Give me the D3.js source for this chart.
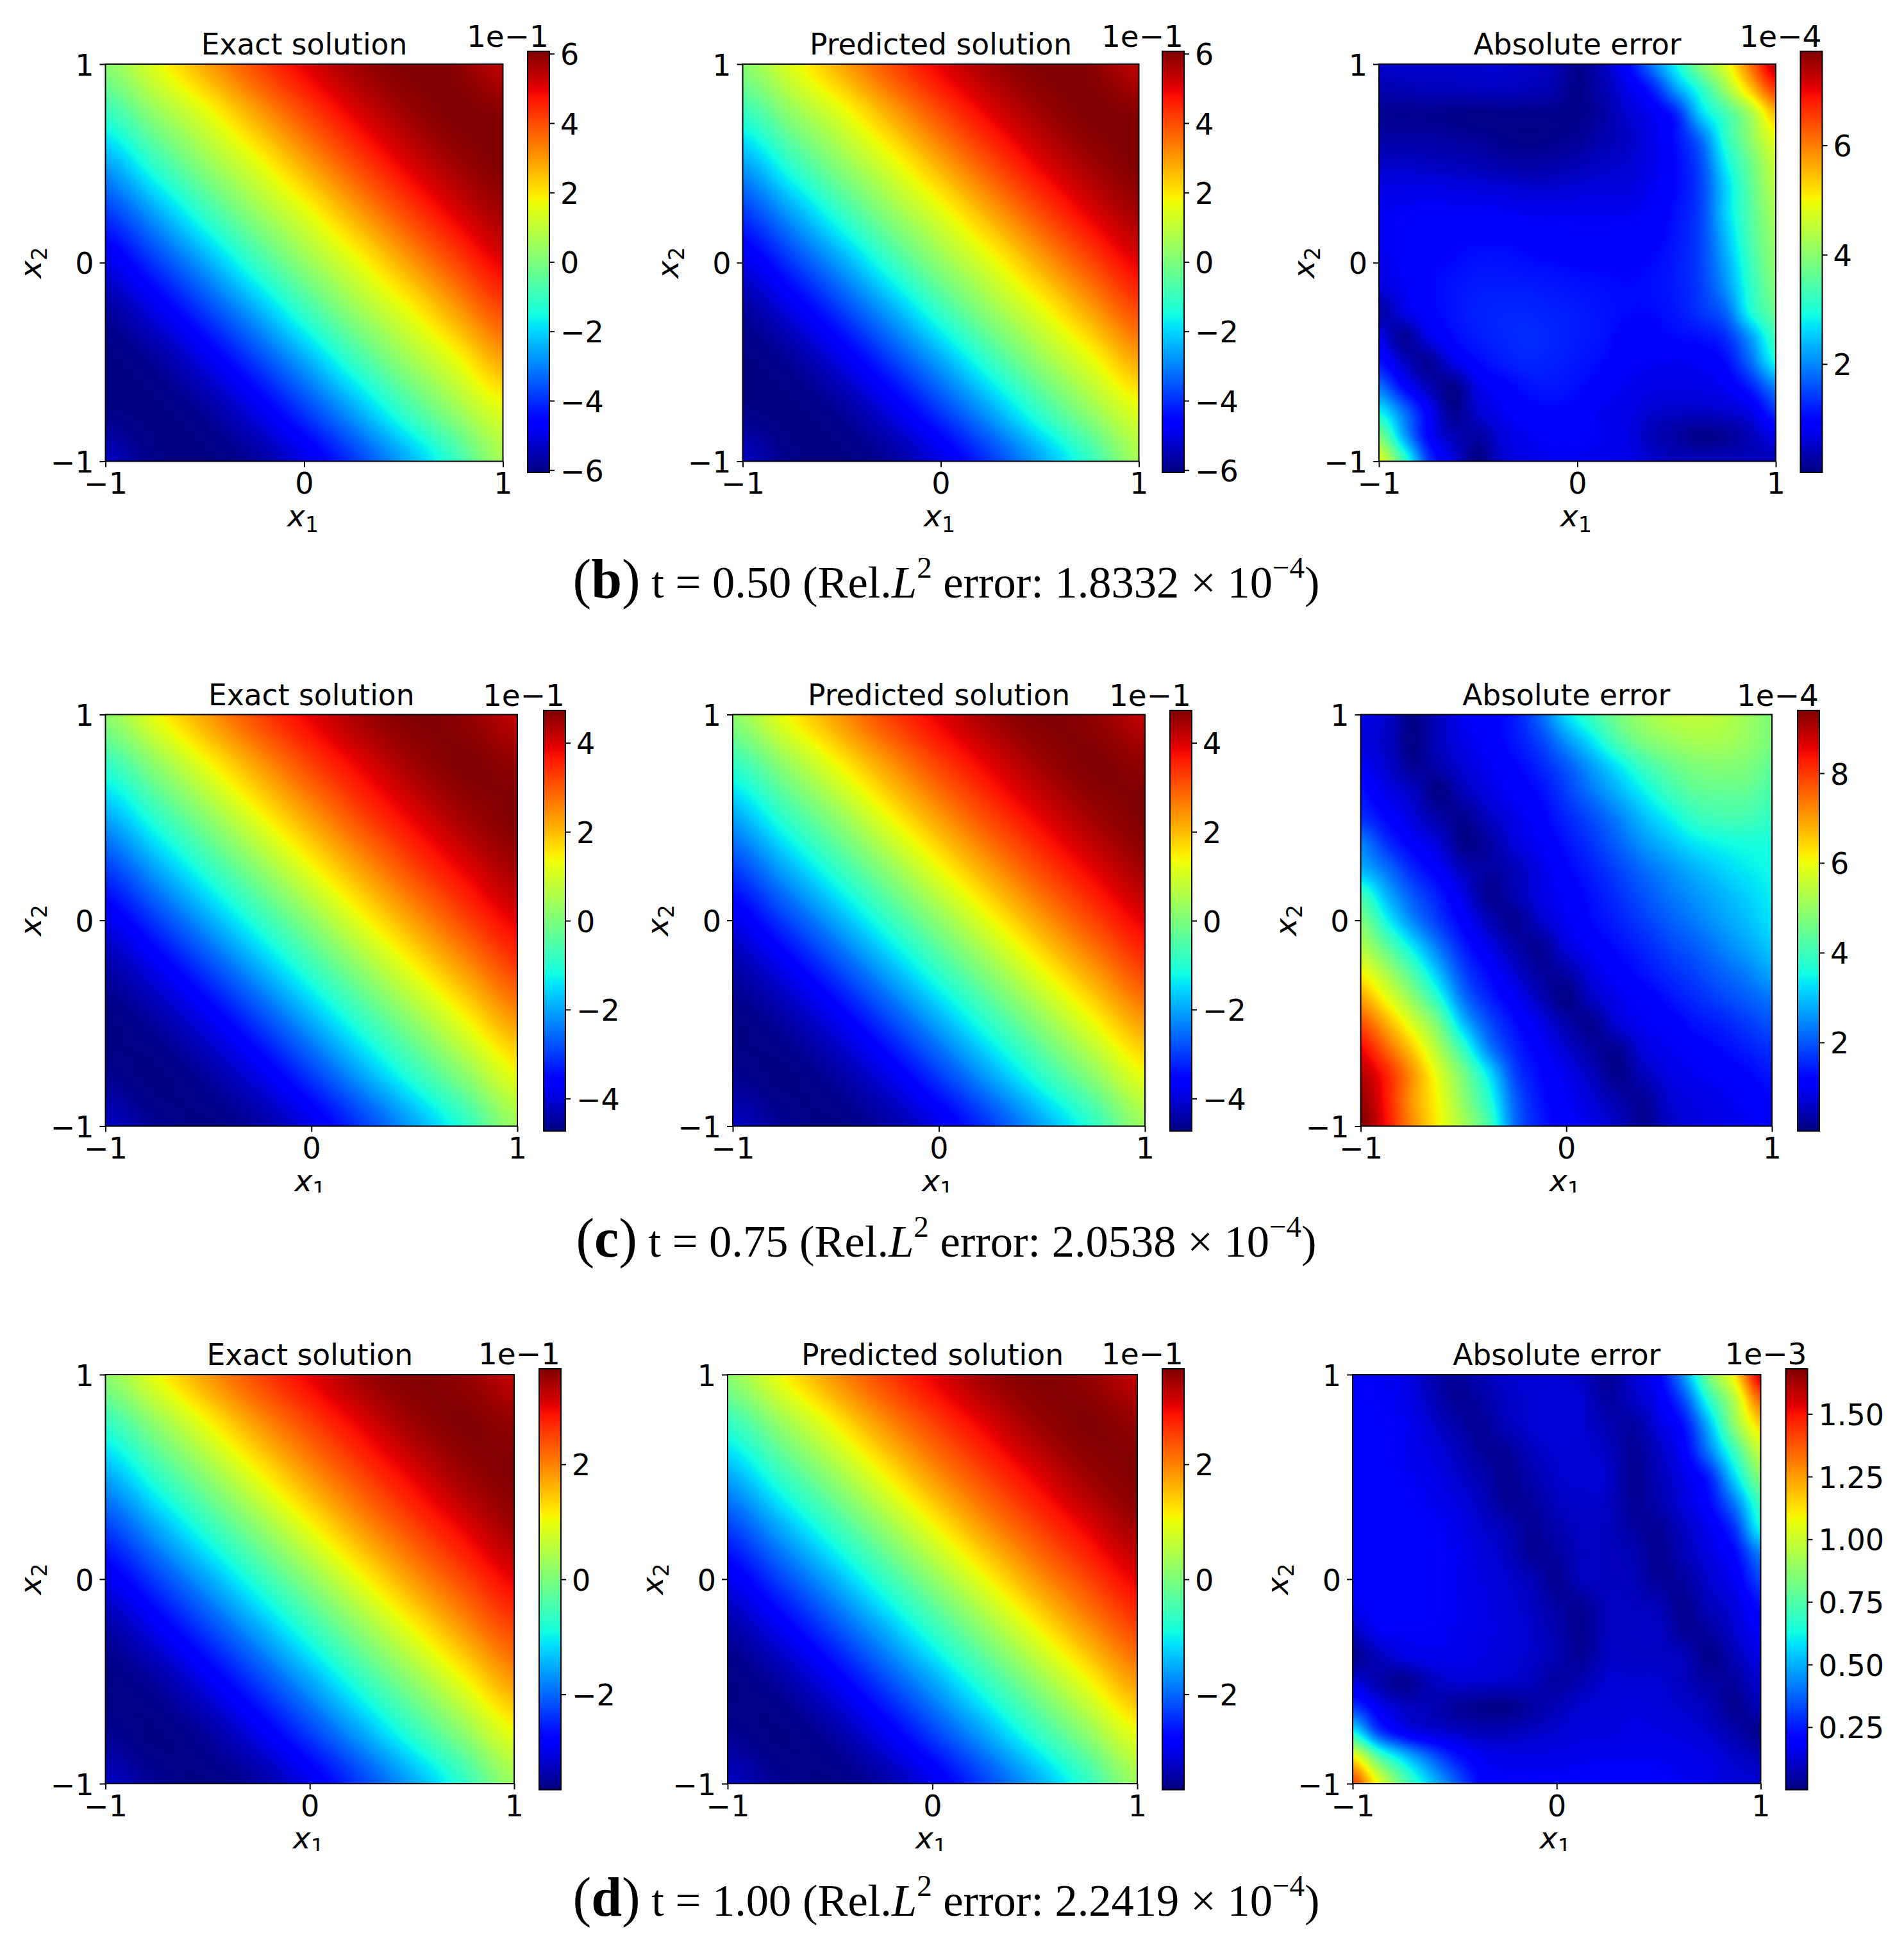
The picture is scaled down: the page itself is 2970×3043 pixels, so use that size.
<!DOCTYPE html>
<html>
<head>
<meta charset="utf-8">
<script src="https://cdn.jsdelivr.net/npm/d3@7"></script>
<style>
    html, body { margin: 0; padding: 0; background: white; }
    svg { display: block; }
    text { fill: black; font-family: "DejaVu Sans"; font-size: 45.6px; }
    .caption, .caption tspan { font-family: "Liberation Serif"; }
</style>
</head>
<body>
<svg id="fig" width="2970" height="3043"></svg>
<script>
//grids: rows go from x2 = 1 down to x2 = -1, columns from x1 = -1 to x1 = 1
const exactB = [
    [0.2, 1.5, 2.8, 4.0, 5.0, 5.7, 6.07, 6.0, 5.4],
    [-1.1, 0.3, 1.5, 2.8, 4.0, 5.0, 5.7, 6.07, 6.0],
    [-2.6, -1.1, 0.3, 1.5, 2.8, 4.0, 5.0, 5.7, 6.07],
    [-3.9, -2.6, -1.1, 0.3, 1.5, 2.8, 4.0, 5.0, 5.7],
    [-5.0, -3.9, -2.6, -1.1, 0.3, 1.5, 2.8, 4.0, 5.0],
    [-5.8, -5.0, -3.9, -2.6, -1.1, 0.3, 1.5, 2.8, 4.0],
    [-6.07, -5.8, -5.0, -3.9, -2.6, -1.1, 0.3, 1.5, 2.8],
    [-6.0, -6.07, -5.8, -5.0, -3.9, -2.6, -1.1, 0.3, 1.5],
    [-5.4, -6.0, -6.07, -5.8, -5.0, -3.9, -2.6, -1.1, 0.6]
];
const exactC = [
    [0.2, 1.3, 2.3, 3.2, 3.9, 4.45, 4.73, 4.6, 4.2],
    [-0.9, 0.2, 1.3, 2.3, 3.2, 3.9, 4.45, 4.73, 4.6],
    [-2.0, -0.9, 0.2, 1.3, 2.3, 3.2, 3.9, 4.45, 4.73],
    [-3.0, -2.0, -0.9, 0.2, 1.3, 2.3, 3.2, 3.9, 4.45],
    [-3.85, -3.0, -2.0, -0.9, 0.2, 1.3, 2.3, 3.2, 3.9],
    [-4.45, -3.85, -3.0, -2.0, -0.9, 0.2, 1.3, 2.3, 3.2],
    [-4.73, -4.45, -3.85, -3.0, -2.0, -0.9, 0.2, 1.3, 2.3],
    [-4.6, -4.73, -4.45, -3.85, -3.0, -2.0, -0.9, 0.2, 1.3],
    [-4.2, -4.6, -4.73, -4.45, -3.85, -3.0, -2.0, -0.9, 0.4]
];
const exactD = [
    [0.15, 1.0, 1.8, 2.45, 3.0, 3.45, 3.65, 3.55, 3.25],
    [-0.7, 0.15, 1.0, 1.8, 2.45, 3.0, 3.45, 3.65, 3.55],
    [-1.55, -0.7, 0.15, 1.0, 1.8, 2.45, 3.0, 3.45, 3.65],
    [-2.3, -1.55, -0.7, 0.15, 1.0, 1.8, 2.45, 3.0, 3.45],
    [-2.95, -2.3, -1.55, -0.7, 0.15, 1.0, 1.8, 2.45, 3.0],
    [-3.45, -2.95, -2.3, -1.55, -0.7, 0.15, 1.0, 1.8, 2.45],
    [-3.65, -3.45, -2.95, -2.3, -1.55, -0.7, 0.15, 1.0, 1.8],
    [-3.55, -3.65, -3.45, -2.95, -2.3, -1.55, -0.7, 0.15, 1.0],
    [-3.25, -3.55, -3.65, -3.45, -2.95, -2.3, -1.55, -0.7, 0.3]
];
const predictedB = exactB, predictedC = exactC, predictedD = exactD;

const errorB = [
    [.55,.55,.55,.55,.55,.55,.48,.40,.09,.40,.94,1.86,2.86,3.94,4.79,6.1,7.33],
    [.32,.36,.40,.40,.44,.44,.40,.32,.09,.32,.71,1.17,2.17,3.1,4.17,5.4,6.56],
    [.13,.13,.13,.09,.05,.09,.09,.09,.09,.25,.55,.79,1.25,2.56,3.33,4.25,5.48],
    [.25,.25,.25,.21,.17,.09,.05,.09,.17,.32,.48,.71,1.09,1.82,3.1,4.02,4.87],
    [.48,.48,.44,.40,.36,.285,.25,.285,.36,.48,.55,.71,1.02,1.56,2.79,3.71,4.56],
    [.67,.71,.71,.67,.63,.59,.55,.55,.59,.63,.63,.79,1.02,1.48,2.56,3.56,4.4],
    [.79,.82,.86,.86,.86,.82,.79,.79,.79,.79,.79,.86,1.09,1.48,2.56,3.48,4.25],
    [.79,.86,.94,.98,.98,.98,.94,.9,.86,.86,.9,.94,1.13,1.48,2.40,3.4,4.1],
    [.71,.86,.98,1.02,1.09,1.09,1.05,1.02,.98,.98,.98,1.02,1.17,1.48,2.25,3.25,4.02],
    [.63,.79,.98,1.09,1.17,1.17,1.17,1.13,1.09,1.05,1.02,1.05,1.17,1.44,2.09,3.1,3.87],
    [.25,.67,.94,1.09,1.21,1.25,1.25,1.21,1.17,1.09,1.02,1.02,1.13,1.36,1.75,2.94,3.63],
    [.71,.17,.71,1.02,1.17,1.25,1.29,1.25,1.17,1.09,.94,.94,1.02,1.09,1.32,2.17,3.25],
    [1.09,.48,.17,.71,1.02,1.17,1.25,1.21,1.13,1.02,.86,.82,.79,.86,1.05,1.79,2.86],
    [1.82,.98,.40,.09,.71,.94,1.09,1.13,1.05,.9,.79,.71,.71,.71,.82,1.21,1.94],
    [2.79,1.82,.86,.13,.55,.79,.94,.98,.94,.79,.71,.55,.48,.48,.55,.71,1.32],
    [3.87,2.25,.94,.40,.25,.63,.79,.86,.86,.79,.71,.40,.25,.09,.17,.40,.71],
    [4.79,3.25,1.40,.63,.05,.55,.71,.79,.79,.75,.71,.55,.40,.40,.40,.40,.40]
];
const errorC = [
    [.87,.64,.12,.5,.97,1.16,1.44,2.14,3.2,3.97,4.63,5.1,5.37,5.47,5.37,5.1,4.72],
    [.78,.59,.07,.54,.87,1.1,1.39,1.81,2.56,3.31,4.15,4.72,5.0,5.19,5.19,5.0,4.72],
    [.97,.68,.21,.4,.73,.97,1.2,1.53,2.0,2.65,3.31,3.97,4.43,4.72,4.81,4.72,4.43],
    [1.34,.87,.59,.07,.5,.83,1.06,1.3,1.76,2.28,2.84,3.4,3.97,4.34,4.43,4.43,4.15],
    [1.62,1.2,.78,.36,.17,.59,.87,1.15,1.53,1.9,2.37,2.94,3.4,3.87,4.06,4.06,3.87],
    [2.37,1.62,1.1,.73,.12,.31,.78,1.01,1.34,1.67,2.09,2.56,2.94,3.31,3.5,3.6,3.6],
    [2.84,2.23,1.53,1.06,.5,.31,.5,.87,1.2,1.48,1.81,2.18,2.51,2.84,3.12,3.36,3.5],
    [3.97,2.84,2.0,1.44,.83,.17,.45,.83,1.06,1.34,1.62,1.95,2.28,2.56,2.84,3.12,3.4],
    [4.72,3.5,2.46,1.72,1.1,.5,.17,.64,.97,1.25,1.48,1.76,2.05,2.33,2.65,2.94,3.27],
    [5.29,4.34,3.31,2.28,1.44,.87,.4,.21,.78,1.06,1.3,1.53,1.81,2.05,2.37,2.7,3.03],
    [6.05,5.19,4.15,2.94,1.81,1.2,.68,.26,.36,.83,1.1,1.34,1.58,1.81,2.09,2.37,2.75],
    [6.89,5.95,4.91,3.69,2.23,1.48,1.01,.5,.07,.59,.92,1.1,1.34,1.58,1.81,2.05,2.28],
    [7.74,6.8,5.76,4.63,2.94,1.9,1.3,.87,.4,.17,.73,.97,1.1,1.34,1.48,1.72,1.95],
    [8.49,7.55,6.52,5.29,3.87,2.37,1.53,1.1,.68,.31,.21,.78,.97,1.1,1.25,1.44,1.62],
    [8.96,8.21,7.08,5.85,4.63,3.27,1.81,1.25,.92,.54,.12,.5,.83,.97,1.06,1.2,1.39],
    [9.24,8.3,7.03,6.05,4.91,3.69,2.09,1.34,1.02,.73,.4,.21,.68,.83,.92,1.06,1.2],
    [9.4,8.4,7.17,6.14,5.2,4.07,2.19,1.44,1.11,.87,.59,.17,.59,.78,.87,.97,1.06]
];
const errorD = [
    [.185,.176,.151,.084,.034,.076,.11,.118,.118,.10,.034,.118,.20,.454,.84,1.11,1.56],
    [.185,.176,.16,.10,.034,.05,.10,.118,.126,.118,.05,.10,.168,.336,.67,.958,1.34],
    [.193,.185,.168,.126,.067,.034,.084,.118,.126,.118,.076,.05,.134,.235,.52,.874,1.14],
    [.193,.185,.168,.143,.10,.042,.034,.092,.118,.118,.10,.034,.10,.193,.42,.706,.99],
    [.20,.193,.176,.16,.118,.076,.025,.067,.11,.118,.11,.025,.084,.151,.27,.57,.857],
    [.20,.193,.185,.168,.143,.10,.034,.042,.092,.11,.10,.034,.067,.134,.218,.42,.706],
    [.21,.20,.193,.185,.16,.118,.084,.034,.067,.10,.092,.05,.034,.10,.168,.30,.62],
    [.21,.20,.193,.185,.168,.134,.10,.034,.05,.092,.092,.076,.025,.084,.143,.218,.42],
    [.193,.20,.193,.185,.168,.143,.118,.084,.025,.092,.092,.084,.034,.05,.118,.176,.32],
    [.168,.193,.193,.185,.168,.151,.126,.10,.05,.034,.092,.092,.076,.025,.092,.134,.235],
    [.10,.168,.176,.176,.168,.151,.134,.11,.067,.025,.092,.10,.10,.034,.05,.118,.185],
    [.025,.092,.143,.16,.16,.143,.126,.11,.076,.034,.10,.10,.10,.084,.017,.084,.151],
    [.134,.067,.025,.084,.118,.118,.11,.092,.05,.076,.118,.118,.118,.092,.05,.05,.118],
    [.30,.168,.10,.084,.042,.02,.017,.05,.084,.118,.126,.134,.126,.11,.084,.025,.084],
    [.62,.32,.185,.134,.11,.084,.084,.10,.118,.134,.134,.151,.143,.134,.11,.067,.017],
    [1.11,.77,.554,.386,.252,.176,.151,.151,.151,.16,.168,.168,.168,.16,.143,.11,.084],
    [1.41,1.06,.77,.554,.37,.218,.185,.185,.185,.193,.20,.21,.185,.168,.151,.126,.118]
];

//colorbar ranges and ticks
const rangeSolB = [-6.07, 6.07], rangeSolC = [-4.73, 4.73], rangeSolD = [-3.66, 3.66];
const rangeErrB = [0.015, 7.72], rangeErrC = [0.026, 9.4], rangeErrD = [0.0, 1.68];
const ticksSolB = [-6, -4, -2, 0, 2, 4, 6], ticksSolC = [-4, -2, 0, 2, 4], ticksSolD = [-2, 0, 2];
const ticksErrB = [2, 4, 6], ticksErrC = [2, 4, 6, 8], ticksErrD = [0.25, 0.5, 0.75, 1.0, 1.25, 1.5];
const axisTicks = [-1, 0, 1];
const panelTitles = ["Exact solution", "Predicted solution", "Absolute error"];

//matplotlib jet, one piecewise linear scale per channel
const jetR = d3.scaleLinear().domain([0, 0.35, 0.66, 0.89, 1]).range([0, 0, 1, 1, 0.5]).clamp(true);
const jetG = d3.scaleLinear().domain([0, 0.125, 0.375, 0.64, 0.91, 1]).range([0, 0, 1, 1, 0, 0]).clamp(true);
const jetB = d3.scaleLinear().domain([0, 0.11, 0.34, 0.65, 1]).range([0.5, 1, 1, 0, 0]).clamp(true);

//pixel layout, one entry per row of the figure
const rows = [
    { top: 100, bottom: 719.5, barTop: 80, barBottom: 737, clipX1: null,
      lefts: [164.5, 1158.5, 2151], rights: [784.5, 1776.5, 2770], barLefts: [823, 1813, 2808.5],
      exps: ["1e\u22121", "1e\u22121", "1e\u22124"],
      data: [exactB, predictedB, errorB], ranges: [rangeSolB, rangeSolB, rangeErrB], ticks: [ticksSolB, ticksSolB, ticksErrB] },
    { top: 1114.5, bottom: 1756.5, barTop: 1108, barBottom: 1764, clipX1: 1860,
      lefts: [164.5, 1143, 2122.5], rights: [807, 1786, 2764], barLefts: [848, 1825, 2804],
      exps: ["1e\u22121", "1e\u22121", "1e\u22124"],
      data: [exactC, predictedC, errorC], ranges: [rangeSolC, rangeSolC, rangeErrC], ticks: [ticksSolC, ticksSolC, ticksErrC] },
    { top: 2144, bottom: 2782, barTop: 2135, barBottom: 2791.5, clipX1: 2887,
      lefts: [164.5, 1135, 2110], rights: [802, 1774, 2746.5], barLefts: [841, 1813, 2785.5],
      exps: ["1e\u22121", "1e\u22121", "1e\u22123"],
      data: [exactD, predictedD, errorD], ranges: [rangeSolD, rangeSolD, rangeErrD], ticks: [ticksSolD, ticksSolD, ticksErrD] }
];
const barWidth = 34;

const captions = [
    { y: 932, big: "b", text: " t = 0.50 (Rel.", err: " error: 1.8332 \u00d7 10" },
    { y: 1960, big: "c", text: " t = 0.75 (Rel.", err: " error: 2.0538 \u00d7 10" },
    { y: 2988, big: "d", text: " t = 1.00 (Rel.", err: " error: 2.2419 \u00d7 10" }
];

const svg = d3.select("#fig");

function jetColor(t) {
    return [jetR(t) * 255, jetG(t) * 255, jetB(t) * 255];
}

//catmull-rom, only used to paint the coarse grid smoothly
function cubic(a, b, c, d, u) {
    return b + 0.5 * u * (c - a + u * (2 * a - 5 * b + 4 * c - d + u * (3 * (b - c) + d - a)));
}
function sampleGrid(grid, gx, gy) {
    const n = grid.length - 1;
    const ix = Math.min(Math.floor(gx), n - 1), iy = Math.min(Math.floor(gy), n - 1);
    const u = gx - ix, v = gy - iy;
    const at = (r, c) => grid[Math.max(0, Math.min(n, r))][Math.max(0, Math.min(n, c))];
    const col = [-1, 0, 1, 2].map(dr => cubic(at(iy + dr, ix - 1), at(iy + dr, ix), at(iy + dr, ix + 1), at(iy + dr, ix + 2), u));
    return cubic(col[0], col[1], col[2], col[3], v);
}

function heatmapUrl(grid, color, w, h) {
    const canvas = document.createElement("canvas");
    canvas.width = w; canvas.height = h;
    const ctx = canvas.getContext("2d");
    const img = ctx.createImageData(w, h);
    const n = grid.length - 1;
    const gx = d3.scaleLinear().domain([0, w - 1]).range([0, n]);
    const gy = d3.scaleLinear().domain([0, h - 1]).range([0, n]);
    for (let py = 0; py < h; py++) {
        for (let px = 0; px < w; px++) {
            const rgb = jetColor(color(sampleGrid(grid, gx(px), gy(py))));
            const k = (py * w + px) * 4;
            img.data[k] = rgb[0]; img.data[k + 1] = rgb[1]; img.data[k + 2] = rgb[2]; img.data[k + 3] = 255;
        }
    }
    ctx.putImageData(img, 0, 0);
    return canvas.toDataURL();
}

function colorbarUrl(w, h) {
    const canvas = document.createElement("canvas");
    canvas.width = w; canvas.height = h;
    const ctx = canvas.getContext("2d");
    for (let py = 0; py < h; py++) {
        const rgb = jetColor(1 - py / (h - 1));
        ctx.fillStyle = d3.rgb(rgb[0], rgb[1], rgb[2]).toString();
        ctx.fillRect(0, py, w, 1);
    }
    return canvas.toDataURL();
}

function styleAxis(g) {
    g.selectAll(".domain").remove();
    g.selectAll("line").attr("stroke", "black").attr("stroke-width", 2);
    g.selectAll("text").style("font-size", "46px");
}

function drawPanel(row, c, r) {
    const left = row.lefts[c], right = row.rights[c], top = row.top, bottom = row.bottom;
    const x = d3.scaleLinear().domain([-1, 1]).range([left, right]);
    const y = d3.scaleLinear().domain([-1, 1]).range([bottom, top]);
    const domain = row.ranges[c];
    const color = d3.scaleLinear().domain(domain).range([0, 1]).clamp(true);
    const g = svg.append("g");

    g.append("image")
        .attr("x", left).attr("y", top)
        .attr("width", right - left).attr("height", bottom - top)
        .attr("preserveAspectRatio", "none")
        .attr("href", heatmapUrl(row.data[c], color, Math.round(right - left), Math.round(bottom - top)));
    g.append("rect")
        .attr("x", left).attr("y", top)
        .attr("width", right - left).attr("height", bottom - top)
        .attr("fill", "none").attr("stroke", "black").attr("stroke-width", 2);

    g.append("g").attr("transform", `translate(0,${bottom})`)
        .call(d3.axisBottom(x).tickValues(axisTicks).tickFormat(d3.format("d")).tickSize(9).tickSizeOuter(0).tickPadding(9))
        .call(styleAxis);
    g.append("g").attr("transform", `translate(${left},0)`)
        .call(d3.axisLeft(y).tickValues(axisTicks).tickFormat(d3.format("d")).tickSize(9).tickSizeOuter(0).tickPadding(9))
        .call(styleAxis)
        .selectAll("text").attr("dy", "0.37em");

    g.append("text").attr("x", (left + right) / 2).attr("y", top - 15)
        .attr("text-anchor", "middle").text(panelTitles[c]);

    //x1 label, cropped at the panel image edge in the lower two rows
    const clipId = `clip-${r}-${c}`;
    if (row.clipX1) {
        svg.append("clipPath").attr("id", clipId).append("rect")
            .attr("x", left).attr("y", bottom).attr("width", right - left).attr("height", row.clipX1 - bottom);
    }
    const xl = g.append("text").attr("x", (left + right) / 2 - 2).attr("y", bottom + 101)
        .attr("text-anchor", "middle").style("font-size", "47px");
    if (row.clipX1) xl.attr("clip-path", `url(#${clipId})`);
    xl.append("tspan").attr("font-style", "italic").text("x");
    xl.append("tspan").style("font-size", "33px").attr("dy", 9).text("1");

    const yl = g.append("text")
        .attr("transform", `translate(${left - 101},${(top + bottom) / 2}) rotate(-90)`)
        .attr("text-anchor", "middle").style("font-size", "47px");
    yl.append("tspan").attr("font-style", "italic").text("x");
    yl.append("tspan").style("font-size", "33px").attr("dy", 9).text("2");

    //colorbar
    const barLeft = row.barLefts[c];
    const barY = d3.scaleLinear().domain(domain).range([row.barBottom, row.barTop]);
    g.append("image")
        .attr("x", barLeft).attr("y", row.barTop)
        .attr("width", barWidth).attr("height", row.barBottom - row.barTop)
        .attr("preserveAspectRatio", "none")
        .attr("href", colorbarUrl(barWidth, Math.round(row.barBottom - row.barTop)));
    g.append("rect")
        .attr("x", barLeft).attr("y", row.barTop)
        .attr("width", barWidth).attr("height", row.barBottom - row.barTop)
        .attr("fill", "none").attr("stroke", "black").attr("stroke-width", 2);
    const fmt = row.ticks[c] === ticksErrD ? d3.format(".2f") : d3.format("d");
    g.append("g").attr("transform", `translate(${barLeft + barWidth},0)`)
        .call(d3.axisRight(barY).tickValues(row.ticks[c]).tickFormat(fmt).tickSize(8).tickSizeOuter(0).tickPadding(9))
        .call(styleAxis)
        .selectAll("text").attr("dy", "0.37em");
    g.append("text").attr("x", barLeft + barWidth - 1).attr("y", row.barTop - 7)
        .attr("text-anchor", "end").style("font-size", "47px").text(row.exps[c]);
}

rows.forEach((row, r) => {
    [0, 1, 2].forEach(c => drawPanel(row, c, r));
});

captions.forEach(cap => {
    const t = svg.append("text").attr("class", "caption")
        .attr("x", 1476).attr("y", cap.y).attr("text-anchor", "middle")
        .style("font-size", "70.5px");
    t.append("tspan").style("font-size", "86px").text("(");
    t.append("tspan").style("font-size", "86px").attr("font-weight", "bold").text(cap.big);
    t.append("tspan").style("font-size", "86px").text(")");
    t.append("tspan").text(cap.text);
    t.append("tspan").attr("font-style", "italic").text("L");
    t.append("tspan").style("font-size", "47px").attr("dy", -31).text("2");
    t.append("tspan").attr("dy", 31).text(cap.err);
    t.append("tspan").style("font-size", "47px").attr("dy", -31).text("\u22124");
    t.append("tspan").attr("dy", 31).text(")");
});
</script>
</body>
</html>
